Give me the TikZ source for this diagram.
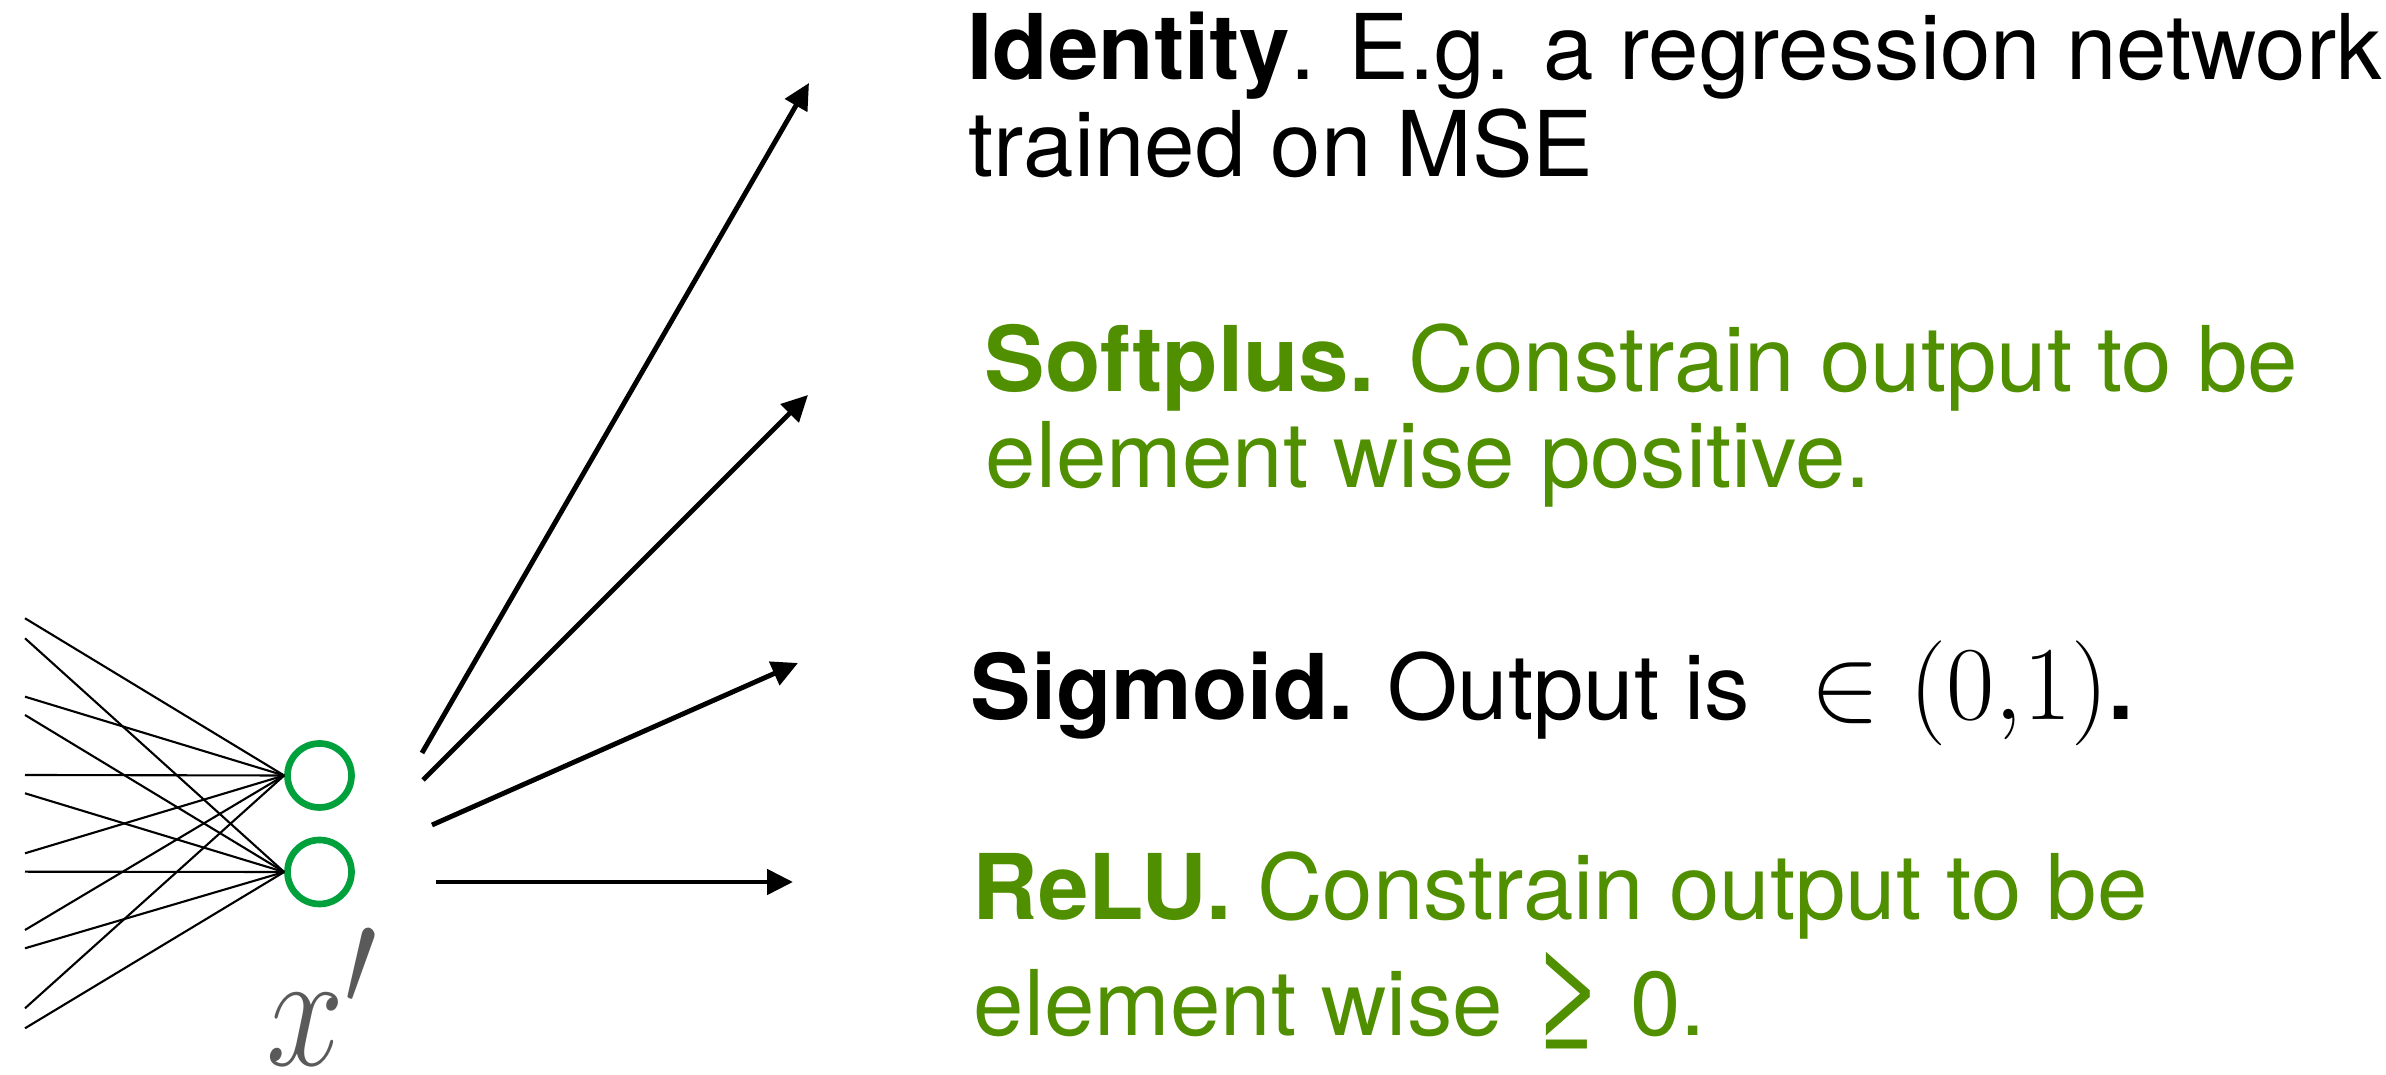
\documentclass[tikz,border=0pt]{standalone}
\usepackage[no-math]{fontspec}
\setmainfont{TeX Gyre Heros}
\usetikzlibrary{arrows.meta}
\definecolor{ringgreen}{RGB}{0,160,60}
\definecolor{textgreen}{RGB}{79,143,0}
\definecolor{labelgray}{RGB}{90,90,90}

\begin{document}
\begin{tikzpicture}[
  neuron/.style={circle, draw=ringgreen, line width=1.9pt, minimum size=0.64cm, inner sep=0pt},
  wire/.style={line width=0.6pt},
  outarrow/.style={line width=1.4pt, -{Triangle[length=0.26cm, width=0.25cm]}},
  desc/.style={anchor=base west, inner sep=0pt, font=\fontsize{25.8pt}{31pt}\selectfont}
]
  \filldraw[fill=white, draw=none] (0cm,0cm) rectangle (23.86cm,-10.75cm);

  % the two output units and their label
  \node[neuron] (h1) at (3.195cm,-7.755cm) {};
  \node[neuron] (h2) at (3.195cm,-8.72cm) {};
  \node[anchor=base west, inner sep=0pt, text=labelgray, font=\fontsize{24.88pt}{30pt}\selectfont] (xlab) at (2.66cm,-10.66cm) {\scalebox{1.6}[1.9]{$x'$}};

  % incoming weights, cut at the left edge
  \coordinate (in1) at (0.25cm,-6.183cm);
  \coordinate (in2) at (0.25cm,-6.383cm);
  \coordinate (in3) at (0.25cm,-6.967cm);
  \coordinate (in4) at (0.25cm,-7.15cm);
  \coordinate (in5) at (0.25cm,-7.75cm);
  \coordinate (in6) at (0.25cm,-7.933cm);
  \coordinate (in7) at (0.25cm,-8.533cm);
  \coordinate (in8) at (0.25cm,-8.717cm);
  \coordinate (in9) at (0.25cm,-9.30cm);
  \coordinate (in10) at (0.25cm,-9.483cm);
  \coordinate (in11) at (0.25cm,-10.083cm);
  \coordinate (in12) at (0.25cm,-10.283cm);
  \draw[wire] (in1) -- (h1.west);
  \draw[wire] (in2) -- (h2.west);
  \draw[wire] (in3) -- (h1.west);
  \draw[wire] (in4) -- (h2.west);
  \draw[wire] (in5) -- (h1.west);
  \draw[wire] (in6) -- (h2.west);
  \draw[wire] (in7) -- (h1.west);
  \draw[wire] (in8) -- (h2.west);
  \draw[wire] (in9) -- (h1.west);
  \draw[wire] (in10) -- (h2.west);
  \draw[wire] (in11) -- (h1.west);
  \draw[wire] (in12) -- (h2.west);

  % choices of output activation
  \coordinate (s1) at (4.22cm,-7.53cm);
  \coordinate (t1) at (8.09cm,-0.83cm);
  \coordinate (s2) at (4.23cm,-7.80cm);
  \coordinate (t2) at (8.08cm,-3.95cm);
  \coordinate (s3) at (4.32cm,-8.25cm);
  \coordinate (t3) at (7.98cm,-6.63cm);
  \coordinate (s4) at (4.36cm,-8.82cm);
  \coordinate (t4) at (7.93cm,-8.82cm);
  \draw[outarrow] (s1) -- (t1);
  \draw[outarrow] (s2) -- (t2);
  \draw[outarrow] (s3) -- (t3);
  \draw[outarrow] (s4) -- (t4);

  \node[desc] (idtop) at (9.67cm,-0.80cm) {\textbf{Identity}. E.g. a regression network};
  \node[desc] (idbot) at (9.68cm,-1.77cm) {trained on MSE};
  \node[desc, text=textgreen] (softtop) at (9.84cm,-3.92cm) {\textbf{Softplus.} Constrain output to be};
  \node[desc, text=textgreen] (softbot) at (9.85cm,-4.88cm) {element wise positive.};
  \node[desc] (sig) at (9.70cm,-7.20cm) {\textbf{Sigmoid.} Output is\hspace{0.6cm}\scalebox{1.2}{$\in(0{,}1)$}\textbf{.}};
  \node[desc, text=textgreen] (relutop) at (9.72cm,-9.20cm) {\textbf{ReLU.} Constrain output to be};
  \node[desc, text=textgreen] (relubot) at (9.73cm,-10.36cm) {element wise \raisebox{-0.09cm}{\scalebox{1.45}{≥}} 0.};
\end{tikzpicture}
\end{document}
